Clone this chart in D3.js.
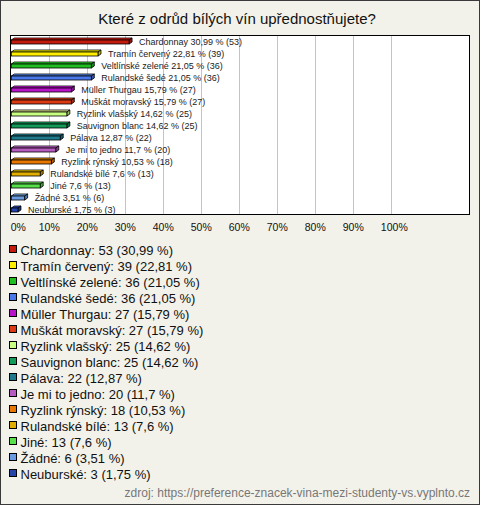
<!DOCTYPE html>
<html><head><meta charset="utf-8">
<script src="https://cdn.jsdelivr.net/npm/d3@7"></script>
<style>html,body{margin:0;padding:0;background:#f3f2ea;}svg{display:block;}</style>
</head><body>
<script>
const title = "Které z odrůd bílých vín upřednostňujete?";
const categories = ["Chardonnay","Tramín červený","Veltlínské zelené","Rulandské šedé","Müller Thurgau","Muškát moravský","Ryzlink vlašský","Sauvignon blanc","Pálava","Je mi to jedno","Ryzlink rýnský","Rulandské bílé","Jiné","Žádné","Neuburské"];
const counts = [53,39,36,36,27,27,25,25,22,20,18,13,13,6,3];
const percents = [30.99,22.81,21.05,21.05,15.79,15.79,14.62,14.62,12.87,11.7,10.53,7.6,7.6,3.51,1.75];
const colors = ["#c41a0e","#ffee00","#1fbf22","#4a78e8","#b814c9","#dc3a14","#c8ff80","#139a58","#1f7a8c","#b65cc0","#e87800","#e0ad00","#58e04a","#6b9be0","#2546a8"];
const xTicks = [0,10,20,30,40,50,60,70,80,90,100];
const source = "zdroj: https://preference-znacek-vina-mezi-studenty-vs.vyplnto.cz";

const W = 480, H = 505;
const font = "'Liberation Sans', Arial, sans-serif";
const svg = d3.select("body").append("svg").attr("width", W).attr("height", H)
  .style("font-family", font);

svg.append("rect").attr("x",0.5).attr("y",0.5).attr("width",W-1).attr("height",H-1)
  .attr("fill","#f3f2ea").attr("stroke","#3a3a3a");

svg.append("text").attr("x",237).attr("y",24).attr("text-anchor","middle")
  .attr("font-size",15).attr("fill","#111").text(title);

const plot = {x0:10, x1:470, y0:35, y1:215};
const x = d3.scaleLinear().domain([0,100]).range([11.3, 391.3]);
const y = d3.scaleBand().domain(categories).range([plot.y0, plot.y1]);

svg.append("rect").attr("x",plot.x0+0.5).attr("y",plot.y0+0.5)
  .attr("width",plot.x1-plot.x0-1).attr("height",plot.y1-plot.y0-1)
  .attr("fill","#fff").attr("stroke","#000");

svg.append("g").selectAll("line").data(xTicks.slice(1)).join("line")
  .attr("x1",d=>Math.round(x(d))+0.5).attr("x2",d=>Math.round(x(d))+0.5)
  .attr("y1",plot.y0+1).attr("y2",plot.y1-1)
  .attr("stroke","#c4c4c4").attr("stroke-width",1);

svg.append("g").selectAll("text").data(xTicks).join("text")
  .attr("x",d=> d===0 ? x(d)+7 : (d===100 ? x(d)+3 : x(d)))
  .attr("y",231).attr("text-anchor","middle").attr("font-size",10.5).attr("fill","#111")
  .text(d=>d+"%");

const depth = 3, rise = 2, fh = 4;
const data = categories.map((c,i)=>({c, n:counts[i], p:percents[i], col:colors[i]}));
const bars = svg.append("g").selectAll("g").data(data).join("g");
bars.each(function(d){
  const g = d3.select(this);
  const xa = x(0), xb = x(d.p);
  const yt = y(d.c) + 5;
  const c = d3.color(d.col);
  g.append("path").attr("d",`M${xa},${yt}L${xa+depth},${yt-rise}L${xb+depth},${yt-rise}L${xb},${yt}Z`)
    .attr("fill", c.brighter(0.6)).attr("stroke","#000").attr("stroke-width",0.8);
  g.append("path").attr("d",`M${xb},${yt}L${xb+depth},${yt-rise}L${xb+depth},${yt-rise+fh}L${xb},${yt+fh}Z`)
    .attr("fill", c.darker(0.8)).attr("stroke","#000").attr("stroke-width",0.8);
  g.append("rect").attr("x",xa).attr("y",yt).attr("width",xb-xa).attr("height",fh)
    .attr("fill", c).attr("stroke","#000").attr("stroke-width",0.8);
  const pct = String(d.p).replace(".",",");
  g.append("text").attr("x",xb+depth+7).attr("y",y(d.c)+y.bandwidth()/2+3.5)
    .attr("font-size",9).attr("fill","#222")
    .text(`${d.c} ${pct} % (${d.n})`);
});

const leg = svg.append("g").selectAll("g").data(data).join("g")
  .attr("transform",(d,i)=>`translate(0,${250 + i*16})`);
leg.append("rect").attr("x",9.5).attr("y",-4.5).attr("width",7).attr("height",7)
  .attr("fill",d=>d.col).attr("stroke","#000");
leg.append("text").attr("x",20.5).attr("y",4.5).attr("font-size",13).attr("fill","#111")
  .text(d=>`${d.c}: ${d.n} (${String(d.p).replace(".",",")} %)`);

svg.append("text").attr("x",470).attr("y",497).attr("text-anchor","end")
  .attr("font-size",12).attr("fill","#777").text(source);
</script>
</body></html>
